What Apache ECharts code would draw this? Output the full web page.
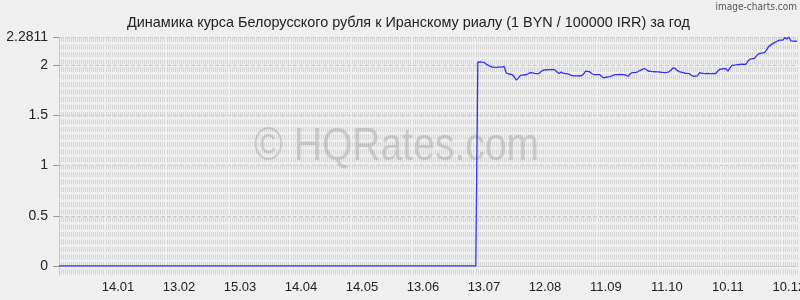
<!DOCTYPE html>
<html>
<head>
<meta charset="utf-8">
<script src="https://cdn.jsdelivr.net/npm/echarts@6/dist/echarts.min.js"></script>
<style>
html,body{margin:0;padding:0;background:#efefef;}
#chart{width:800px;height:300px;}
</style>
</head>
<body>
<div id="chart"></div>
<script>
const titleText = "Динамика курса Белорусского рубля к Иранскому риалу (1 BYN / 100000 IRR) за год";
const startDate = "2016-12-16";
const dayCount = 364;
const yTickValues = [0, 0.5, 1, 1.5, 2, 2.2811];
const firstLabelIndex = 29;
const labelStep = 30;

const rateValues = [
0,0,0,0,0,0,0,0,0,0,0,0,0,0,0,0,0,0,0,0,
0,0,0,0,0,0,0,0,0,0,0,0,0,0,0,0,0,0,0,0,
0,0,0,0,0,0,0,0,0,0,0,0,0,0,0,0,0,0,0,0,
0,0,0,0,0,0,0,0,0,0,0,0,0,0,0,0,0,0,0,0,
0,0,0,0,0,0,0,0,0,0,0,0,0,0,0,0,0,0,0,0,
0,0,0,0,0,0,0,0,0,0,0,0,0,0,0,0,0,0,0,0,
0,0,0,0,0,0,0,0,0,0,0,0,0,0,0,0,0,0,0,0,
0,0,0,0,0,0,0,0,0,0,0,0,0,0,0,0,0,0,0,0,
0,0,0,0,0,0,0,0,0,0,0,0,0,0,0,0,0,0,0,0,
0,0,0,0,0,0,0,0,0,0,0,0,0,0,0,0,0,0,0,0,
0,0,0,0,0,0,
2.031,2.032,2.030,2.029,2.012,2.001,1.990,1.982,1.980,1.979,
1.981,1.980,1.983,1.985,1.921,1.915,1.910,1.906,1.880,1.852,
1.874,1.898,1.902,1.905,1.907,1.918,1.926,1.924,1.918,1.916,
1.917,1.935,1.949,1.953,1.955,1.957,1.956,1.958,1.951,1.933,
1.917,1.931,1.922,1.917,1.916,1.909,1.899,1.895,1.894,1.893,
1.895,1.894,1.912,1.940,1.938,1.935,1.918,1.907,1.906,1.907,
1.906,1.885,1.874,1.880,1.884,1.886,1.895,1.903,1.907,1.906,
1.908,1.906,1.907,1.899,1.890,1.915,1.927,1.926,1.928,1.940,
1.949,1.958,1.967,1.955,1.940,1.938,1.936,1.935,1.934,1.933,
1.930,1.928,1.927,1.929,1.934,1.950,1.973,1.969,1.950,1.936,
1.930,1.925,1.920,1.918,1.917,1.900,1.890,1.892,1.894,1.925,
1.922,1.918,1.917,1.918,1.916,1.917,1.918,1.917,1.940,1.960,
1.962,1.965,1.967,1.941,1.970,1.998,2.001,2.003,2.006,2.008,
2.010,2.008,2.012,2.045,2.060,2.066,2.067,2.090,2.113,2.118,
2.122,2.126,2.150,2.185,2.200,2.215,2.225,2.236,2.247,2.249,
2.250,2.275,2.262,2.2811,2.242,2.240,2.239,2.240
];

// daily date categories (DD.MM)
const dates = [];
(function(){
  const d0 = new Date(startDate + "T00:00:00Z");
  for (let i = 0; i < dayCount; i++) {
    const d = new Date(d0.getTime() + i * 86400000);
    const dd = String(d.getUTCDate()).padStart(2, "0");
    const mm = String(d.getUTCMonth() + 1).padStart(2, "0");
    dates.push(dd + "." + mm);
  }
})();

const chart = echarts.init(document.getElementById("chart"), null, {renderer: "canvas"});
const font = "'Liberation Sans', Arial, sans-serif";
chart.setOption({
  animation: false,
  backgroundColor: "#efefef",
  title: {
    text: titleText,
    left: 122,
    top: 11,
    textStyle: {fontSize: 14.4, fontWeight: "normal", color: "#222", fontFamily: font}
  },
  graphic: [
    {
      type: "text", right: 3, top: 2, z: 100,
      style: {text: "image-charts.com", fontSize: 10, fill: "#555", fontFamily: "'DejaVu Sans Condensed', 'DejaVu Sans', sans-serif"}
    },
    {
      type: "text", left: 254, top: 124, z: 1, scaleX: 0.85,
      style: {text: "© HQRates.com", fontSize: 46, fill: "rgba(150,150,150,0.38)", fontFamily: "'Liberation Sans', sans-serif"}
    }
  ],
  grid: {left: 59, right: 3, top: 37, bottom: 25, containLabel: false, outerBoundsMode: "none"},
  xAxis: {
    type: "category",
    data: dates,
    boundaryGap: false,
    axisLine: {show: true, lineStyle: {color: "#c8c8c8", type: [1, 1]}},
    axisTick: {show: false},
    axisLabel: {
      interval: function(i){ return i >= firstLabelIndex && (i - firstLabelIndex) % labelStep === 0; },
      fontSize: 13, color: "#222", fontFamily: font, margin: 6
    },
    splitLine: {show: true, interval: 0, lineStyle: {color: "#d4d4d4", width: 1, type: [5, 2.5]}}
  },
  yAxis: {
    type: "value",
    min: -0.09,
    max: 2.2811,
    axisLine: {show: true, lineStyle: {color: "#c0c0c0", type: [1, 1]}},
    axisTick: {show: true, length: 6, customValues: yTickValues, lineStyle: {color: "#999"}},
    axisLabel: {customValues: yTickValues, fontSize: 14, color: "#222", fontFamily: font, margin: 11},
    splitLine: {show: true, lineStyle: {color: "#c8c8c8", width: 1, type: [4, 2]}}
  },
  series: [{
    type: "line",
    data: rateValues,
    showSymbol: false,
    z: 5,
    lineStyle: {color: "#3030ff", width: 1.3},
    itemStyle: {color: "#3030ff"}
  }]
});
</script>
</body>
</html>
